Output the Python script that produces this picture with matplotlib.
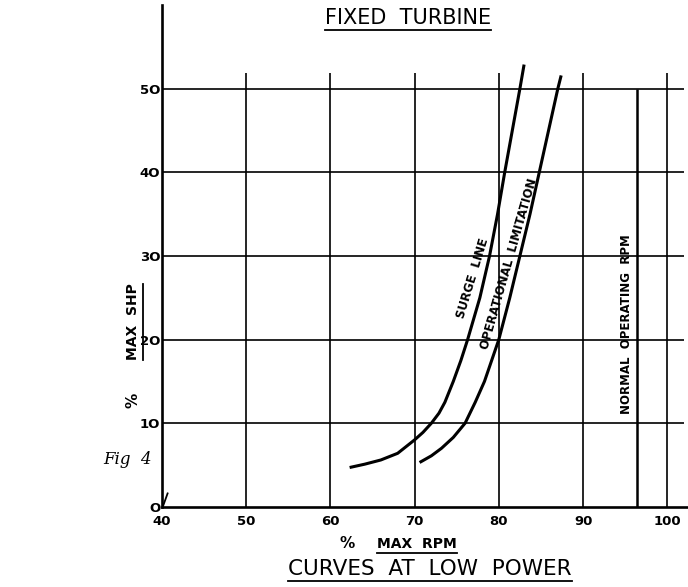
import numpy as np
import matplotlib.pyplot as plt
from matplotlib.lines import Line2D

# % max rpm / % max shp
rpm_ticks = [40, 50, 60, 70, 80, 90, 100]
shp_ticks = [0, 10, 20, 30, 40, 50]
rpm_labels = ["40", "50", "60", "70", "80", "90", "100"]
shp_labels = ["O", "1O", "2O", "3O", "4O", "5O"]

surge_rpm = [62.3, 64.1, 66.0, 68.0, 70.0, 71.0, 72.0, 72.9, 73.6, 74.6, 75.5, 76.3, 77.75, 78.9, 79.85, 80.7, 81.6, 82.5, 83.0]
surge_shp = [4.7, 5.1, 5.6, 6.4, 8.0, 8.9, 10.0, 11.2, 12.5, 15.0, 17.5, 20.0, 25.0, 30.0, 35.0, 40.0, 45.0, 50.0, 52.9]

oper_rpm = [70.6, 72.0, 73.2, 74.6, 76.0, 77.2, 78.3, 80.0, 81.3, 82.5, 83.7, 84.8, 85.9, 87.0, 87.4]
oper_shp = [5.3, 6.1, 7.0, 8.3, 10.0, 12.5, 15.0, 20.0, 25.0, 30.0, 35.0, 40.0, 45.0, 50.0, 51.6]

normal_rpm = 96.4

plt.rcParams['font.family'] = ['DejaVu Sans']

fig = plt.figure(figsize=(6.88, 5.87), dpi=100)
ax = fig.add_axes([161.7 / 688, 80.2 / 587, 526.3 / 688, 501.6 / 587])
ax.set_xlim(40, 102.45)
ax.set_ylim(0, 60)

for s in ['top', 'right']:
    ax.spines[s].set_visible(False)
for s in ['left', 'bottom']:
    ax.spines[s].set_linewidth(1.9)

# grid drawn by hand, the lines stop short like on the drawing
ax.hlines(shp_ticks[1:], 40, 102.0, color='k', lw=1.2)
ax.vlines(rpm_ticks[1:], 0, 51.9, color='k', lw=1.2)
ax.vlines(normal_rpm, 0, 50.0, color='k', lw=1.8)
ax.plot([40.2, 40.7], [0.2, 1.6], color='k', lw=1.3, clip_on=False)

ax.plot(surge_rpm, surge_shp, color='k', lw=2.2, solid_capstyle='butt', solid_joinstyle='round')
ax.plot(oper_rpm, oper_shp, color='k', lw=2.2, solid_capstyle='butt', solid_joinstyle='round')

ax.set_xticks(rpm_ticks)
ax.set_xticklabels(rpm_labels, fontsize=9.5, fontweight='bold')
ax.set_yticks(shp_ticks)
ax.set_yticklabels(shp_labels, fontsize=9.5, fontweight='bold')
ax.tick_params(length=0)
ax.tick_params(axis='x', pad=6)
ax.tick_params(axis='y', pad=1)

lab = dict(ha='center', va='center', fontweight='bold', rotation_mode='anchor')
ax.text(76.9, 27.3, "SURGE  LINE", rotation=73, fontsize=8.5, **lab)
ax.text(81.2, 29.1, "OPERATIONAL  LIMITATION", rotation=74, fontsize=8.5, **lab)
ax.text(95.1, 21.8, "NORMAL  OPERATING  RPM", rotation=90, fontsize=8.5, **lab)

title = fig.text(408 / 688, 1 - 18 / 587, "FIXED  TURBINE", ha='center', va='center', fontsize=15)
bottom = fig.text(430 / 688, 1 - 569 / 587, "CURVES  AT  LOW  POWER", ha='center', va='center', fontsize=15.5)

fig.text(347 / 688, 1 - 544 / 587, "%", ha='center', va='center', fontsize=11, fontweight='bold')
xl = fig.text(417 / 688, 1 - 544 / 587, "MAX  RPM", ha='center', va='center', fontsize=10,
              fontweight='bold')

fig.text(133 / 688, 1 - 400 / 587, "%", rotation=90, ha='center', va='center', fontsize=11, fontweight='bold')
yl = fig.text(133 / 688, 1 - 322 / 587, "MAX  SHP", rotation=90, ha='center', va='center', fontsize=10,
              fontweight='bold')

fig.text(128 / 688, 1 - 460 / 587, "Fig  4", ha='center', va='center', fontsize=12,
         style='italic', family='DejaVu Serif')

# underlines under the headings
fig.canvas.draw()
r = fig.canvas.get_renderer()
inv = fig.transFigure.inverted()
for t in [title, bottom, xl]:
    bb = t.get_window_extent(r).transformed(inv)
    fig.add_artist(Line2D([bb.x0, bb.x1], [bb.y0 - 0.004, bb.y0 - 0.004], color='k', lw=1.3))
bb = yl.get_window_extent(r).transformed(inv)
fig.add_artist(Line2D([bb.x1 + 0.004, bb.x1 + 0.004], [bb.y0, bb.y1], color='k', lw=1.3))

fig.savefig("out.png", dpi=100)
